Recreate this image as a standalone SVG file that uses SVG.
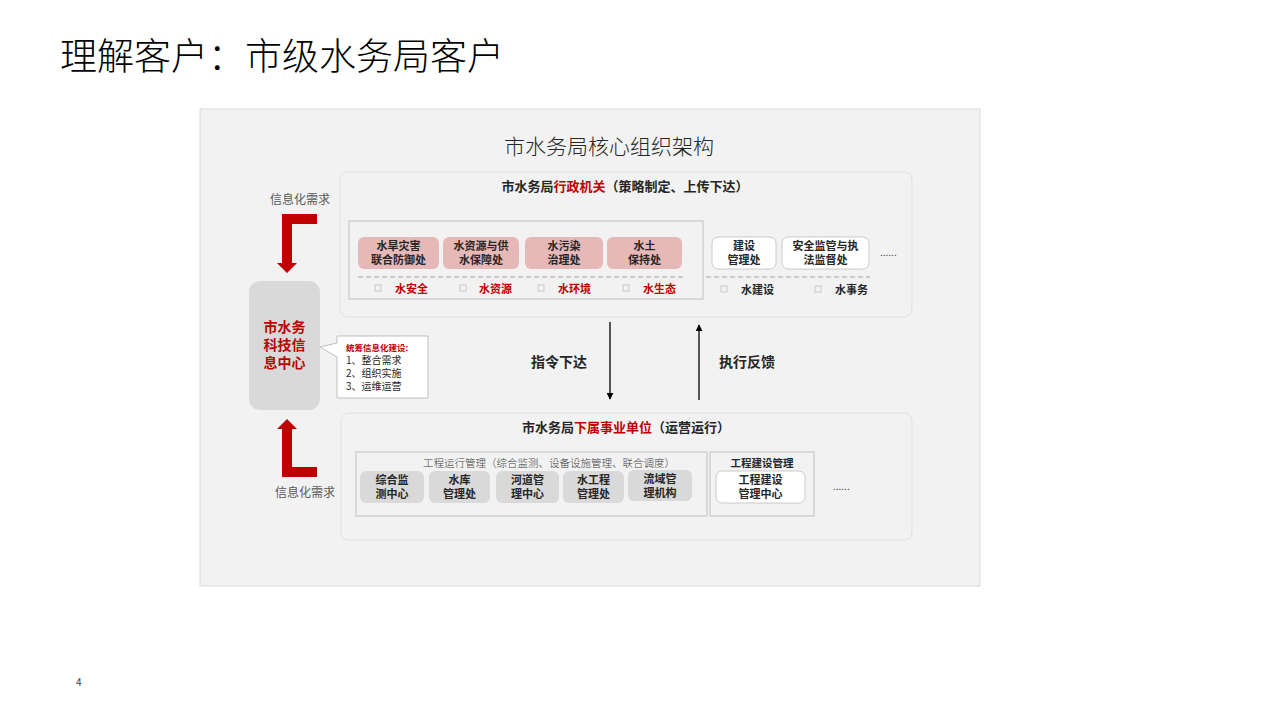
<svg xmlns="http://www.w3.org/2000/svg" width="1280" height="720" viewBox="0 0 1280 720">
<defs>
<style>
text{font-family:"Noto Sans CJK SC","Liberation Sans",sans-serif;}
.t{fill:#000;font-weight:300;}
.hb{font-size:13px;font-weight:700;fill:#262626;}
.red{fill:#c00000;}
.bx{font-size:11px;font-weight:700;fill:#262626;text-anchor:middle;}
.lab{font-size:11px;font-weight:700;}
.sq{fill:none;stroke:#bfbfbf;stroke-width:0.8;}
.pink{fill:#e6b9b8;}
.grey{fill:#d9d9d9;}
.white{fill:#fff;stroke:#bfbfbf;stroke-width:0.8;}
.panel{fill:#f2f2f2;stroke:#e0e0e0;stroke-width:1;}
.frame{fill:none;stroke:#bfbfbf;stroke-width:1;}
.dash{stroke:#bfbfbf;stroke-width:1.5;stroke-dasharray:5 3;fill:none;}
.gtxt{font-size:12px;fill:#595959;}
.ct{font-size:10px;fill:#262626;}
.cc{font-size:14px;font-weight:700;text-anchor:middle;fill:#c00000;}
</style>
<marker id="ah" viewBox="0 0 10 10" refX="9" refY="5" markerWidth="7" markerHeight="7" orient="auto" markerUnits="userSpaceOnUse">
<path d="M0,0 L10,5 L0,10 Z" fill="#000"/>
</marker>
</defs>
<rect width="1280" height="720" fill="#fff"/>
<text x="60" y="70" font-size="37" class="t">理解客户：市级水务局客户</text>
<text x="76" y="686" font-size="10" fill="#404040">4</text>

<g id="main-panel">
<rect x="200" y="109" width="780" height="477" fill="#f2f2f2" stroke="#d9d9d9"/>
<text x="609" y="154" font-size="21" text-anchor="middle" fill="#262626" font-weight="300">市水务局核心组织架构</text>
</g>

<g id="admin">
<rect x="340" y="172" width="572" height="145" rx="8" class="panel"/>
<text x="625" y="191" text-anchor="middle" class="hb">市水务局<tspan class="red">行政机关</tspan>（策略制定、上传下达）</text>
<rect x="349" y="221" width="354" height="78" class="frame"/>
<line x1="358" y1="277" x2="684" y2="277" class="dash"/>
<line x1="706" y1="277" x2="870" y2="277" class="dash"/>
</g>

<g id="n-hanzai">
<rect x="358" y="237" width="81" height="32" rx="6" class="pink"/>
<text class="bx" x="398.5" y="250">水旱灾害</text>
<text class="bx" x="398.5" y="264">联合防御处</text>
</g>
<g id="n-ziyuan">
<rect x="443" y="237" width="76" height="32" rx="6" class="pink"/>
<text class="bx" x="481" y="250">水资源与供</text>
<text class="bx" x="481" y="264">水保障处</text>
</g>
<g id="n-wuran">
<rect x="525" y="237" width="78" height="32" rx="6" class="pink"/>
<text class="bx" x="564" y="250">水污染</text>
<text class="bx" x="564" y="264">治理处</text>
</g>
<g id="n-shuitu">
<rect x="607" y="237" width="75" height="32" rx="6" class="pink"/>
<text class="bx" x="644.5" y="250">水土</text>
<text class="bx" x="644.5" y="264">保持处</text>
</g>
<g id="n-jianshe">
<rect x="712" y="237" width="64" height="32" rx="6" class="white"/>
<text class="bx" x="744" y="250">建设</text>
<text class="bx" x="744" y="264">管理处</text>
</g>
<g id="n-anquan">
<rect x="782" y="237" width="87" height="32" rx="6" class="white"/>
<text class="bx" x="825.5" y="250">安全监管与执</text>
<text class="bx" x="825.5" y="264">法监督处</text>
</g>
<text x="880" y="256" font-size="10" fill="#404040">......</text>

<g id="labels">
<rect x="375" y="285" width="6" height="6" class="sq"/><text x="395" y="293" class="lab red">水安全</text>
<rect x="460" y="285" width="6" height="6" class="sq"/><text x="479" y="293" class="lab red">水资源</text>
<rect x="538" y="285" width="6" height="6" class="sq"/><text x="558" y="293" class="lab red">水环境</text>
<rect x="623" y="285" width="6" height="6" class="sq"/><text x="643" y="293" class="lab red">水生态</text>
<rect x="721" y="286" width="6" height="6" class="sq"/><text x="741" y="294" class="lab" fill="#262626">水建设</text>
<rect x="815" y="286" width="6" height="6" class="sq"/><text x="835" y="294" class="lab" fill="#262626">水事务</text>
</g>

<g id="info-center">
<rect x="249" y="281" width="71" height="129" rx="11" class="grey"/>
<text x="284.5" y="332" class="cc">市水务</text>
<text x="284.5" y="350" class="cc">科技信</text>
<text x="284.5" y="368" class="cc">息中心</text>
</g>

<g id="callout">
<path d="M337,336 H428 V398 H337 V357 L320,347 L337,343 Z" fill="#fff" stroke="#bfbfbf" stroke-width="1"/>
<text x="346" y="351" font-size="8.5" font-weight="700" class="red">统筹信息化建设:</text>
<text x="346" y="364" class="ct">1、整合需求</text>
<text x="346" y="377" class="ct">2、组织实施</text>
<text x="346" y="390" class="ct">3、运维运营</text>
</g>

<g id="info-demand-top">
<text x="300" y="204" text-anchor="middle" class="gtxt">信息化需求</text>
<path d="M282,214 H317 V224 H292 V263 H297 L287,273 L277,263 H282 Z" fill="#c00000"/>
</g>
<g id="info-demand-bottom">
<path d="M287,419 L297,429 H292 V467 H317 V477 H282 V429 H277 Z" fill="#c00000"/>
<text x="305" y="497" text-anchor="middle" class="gtxt">信息化需求</text>
</g>

<g id="connectors">
<line x1="610" y1="322" x2="610" y2="399" stroke="#000" stroke-width="1.3" marker-end="url(#ah)"/>
<line x1="699" y1="400" x2="699" y2="325" stroke="#000" stroke-width="1.3" marker-end="url(#ah)"/>
<text x="559" y="367" font-size="14" font-weight="700" text-anchor="middle" fill="#262626">指令下达</text>
<text x="747" y="367" font-size="14" font-weight="700" text-anchor="middle" fill="#262626">执行反馈</text>
</g>

<g id="units">
<rect x="341" y="413" width="571" height="127" rx="8" class="panel"/>
<text x="626" y="432" text-anchor="middle" class="hb">市水务局<tspan class="red">下属事业单位</tspan>（运营运行）</text>
<rect x="356" y="452" width="351" height="64" class="frame"/>
<text x="549" y="467" font-size="10.5" text-anchor="middle" fill="#404040" font-weight="300">工程运行管理（综合监测、设备设施管理、联合调度）</text>
<rect x="710" y="452" width="104" height="64" class="frame"/>
<text x="762" y="467" font-size="10.5" font-weight="700" text-anchor="middle" fill="#262626">工程建设管理</text>
<text x="833" y="490" font-size="10" fill="#404040">......</text>
</g>

<g id="u-zonghe">
<rect x="360" y="471" width="64" height="32" rx="6" class="grey"/>
<text class="bx" x="392" y="484">综合监</text>
<text class="bx" x="392" y="498">测中心</text>
</g>
<g id="u-shuiku">
<rect x="429" y="471" width="61" height="32" rx="6" class="grey"/>
<text class="bx" x="459.5" y="484">水库</text>
<text class="bx" x="459.5" y="498">管理处</text>
</g>
<g id="u-hedao">
<rect x="496" y="471" width="63" height="32" rx="6" class="grey"/>
<text class="bx" x="527.5" y="484">河道管</text>
<text class="bx" x="527.5" y="498">理中心</text>
</g>
<g id="u-shuigong">
<rect x="563" y="471" width="61" height="32" rx="6" class="grey"/>
<text class="bx" x="593.5" y="484">水工程</text>
<text class="bx" x="593.5" y="498">管理处</text>
</g>
<g id="u-liuyu">
<rect x="628" y="470" width="64" height="31" rx="6" class="grey"/>
<text class="bx" x="660" y="483">流域管</text>
<text class="bx" x="660" y="497">理机构</text>
</g>
<g id="u-gongcheng">
<rect x="716" y="471" width="89" height="32" rx="6" class="white"/>
<text class="bx" x="760.5" y="484">工程建设</text>
<text class="bx" x="760.5" y="498">管理中心</text>
</g>
</svg>
